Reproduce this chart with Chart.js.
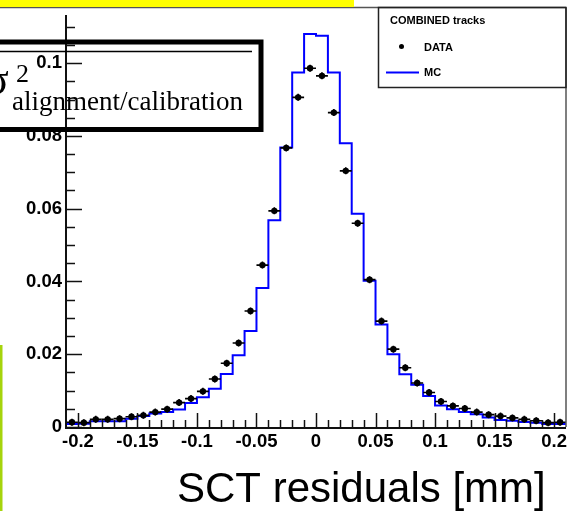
<!DOCTYPE html>
<html>
<head>
<meta charset="utf-8">
<script src="https://cdn.jsdelivr.net/npm/chart.js@4.4.1/dist/chart.umd.min.js"></script>
<style>
html,body{margin:0;padding:0;background:#fff;}
#wrap{position:relative;width:572px;height:511px;}
canvas{display:block;}
</style>
</head>
<body>
<div id="wrap"><canvas id="c" width="572" height="511"></canvas></div>
<script>
// ---- data ----
const binEdges = [-0.21,-0.20,-0.19,-0.18,-0.17,-0.16,-0.15,-0.14,-0.13,-0.12,-0.11,-0.10,-0.09,-0.08,-0.07,-0.06,-0.05,-0.04,-0.03,-0.02,-0.01,0.00,0.01,0.02,0.03,0.04,0.05,0.06,0.07,0.08,0.09,0.10,0.11,0.12,0.13,0.14,0.15,0.16,0.17,0.18,0.19,0.20,0.21];
const dataValues = [0.0013,0.0012,0.0021,0.0021,0.0023,0.0028,0.0032,0.0041,0.0049,0.0067,0.0078,0.0098,0.0132,0.0175,0.0231,0.0319,0.0445,0.0594,0.0767,0.0906,0.0986,0.0965,0.0864,0.0704,0.0560,0.0405,0.0291,0.0214,0.0163,0.0121,0.0095,0.0070,0.0058,0.0051,0.0041,0.0034,0.0030,0.0025,0.0021,0.0017,0.0012,0.0013];
const mcValues = [0.0008,0.0009,0.0016,0.0016,0.0016,0.0023,0.0030,0.0037,0.0041,0.0048,0.0066,0.0082,0.0105,0.0146,0.0197,0.0264,0.0382,0.0568,0.0768,0.0974,0.1080,0.1075,0.0974,0.0780,0.0586,0.0402,0.0282,0.0200,0.0145,0.0116,0.0085,0.0059,0.0049,0.0041,0.0035,0.0026,0.0019,0.0017,0.0014,0.0012,0.0008,0.0008];
const xTickValues = [-0.2,-0.15,-0.1,-0.05,0,0.05,0.1,0.15,0.2];
const xTickLabels = ['-0.2','-0.15','-0.1','-0.05','0','0.05','0.1','0.15','0.2'];
const yTickValues = [0,0.02,0.04,0.06,0.08,0.1];
const yTickLabels = ['0','0.02','0.04','0.06','0.08','0.1'];
const xMinorStep = 0.01, yMinorStep = 0.005;
const xTitle = 'SCT residuals [mm]';
const legendTitle = 'COMBINED tracks';
const seriesNames = ['DATA','MC'];
const noteSigma = 'σ', noteSup = '2', noteSub = 'alignment/calibration';

const SANS = '"Liberation Sans", Arial, Helvetica, sans-serif';
const SERIF = '"Liberation Serif", "Times New Roman", serif';

const mcPoints = binEdges.map((e,i)=>({x:e, y: mcValues[Math.min(i, mcValues.length-1)]}));
const dataPoints = dataValues.map((v,i)=>({x:(binEdges[i]+binEdges[i+1])/2, y:v, lo:binEdges[i], hi:binEdges[i+1]}));

const decor = {
  id:'decor',
  beforeDraw(chart){
    const ctx = chart.ctx;
    ctx.save();
    ctx.fillStyle='#fff'; ctx.fillRect(0,0,chart.width,chart.height);
    ctx.restore();
  },
  afterDatasetsDraw(chart){
    const ctx = chart.ctx, xs = chart.scales.x, ys = chart.scales.y;
    const a = chart.chartArea;
    ctx.save();
    // error bars for data
    ctx.strokeStyle='#000'; ctx.lineWidth=1.6;
    dataPoints.forEach(p=>{
      const y = ys.getPixelForValue(p.y);
      const x = xs.getPixelForValue(p.x);
      ctx.beginPath();
      ctx.moveTo(xs.getPixelForValue(p.lo), y);
      ctx.lineTo(xs.getPixelForValue(p.hi), y);
      ctx.moveTo(x, y-3.5); ctx.lineTo(x, y+3.5);
      ctx.stroke();
    });
    // frame
    ctx.strokeStyle='#555'; ctx.lineWidth=1.5;
    ctx.beginPath(); ctx.moveTo(0,7.5); ctx.lineTo(a.right,7.5); ctx.stroke();
    ctx.beginPath(); ctx.moveTo(a.right,7.5); ctx.lineTo(a.right,a.bottom); ctx.stroke();
    ctx.strokeStyle='#111'; ctx.lineWidth=2;
    ctx.beginPath(); ctx.moveTo(a.left,a.top); ctx.lineTo(a.left,a.bottom+1); ctx.lineTo(a.right,a.bottom+1); ctx.stroke();
    // y ticks (inward)
    ctx.lineWidth=1.5; ctx.strokeStyle='#111';
    for(let k=0; ; k++){
      const v = k*yMinorStep; if (v > ys.max) break;
      const py = Math.round(ys.getPixelForValue(v))+0.5;
      const major = yTickValues.some(t=>Math.abs(t-v)<1e-9);
      ctx.beginPath(); ctx.moveTo(a.left,py); ctx.lineTo(a.left+(major?16:9),py); ctx.stroke();
    }
    // x ticks (inward, upward)
    const n = Math.round((xs.max-xs.min)/xMinorStep);
    for(let k=1;k<n;k++){
      const v = xs.min + k*xMinorStep;
      const px = Math.round(xs.getPixelForValue(v))+0.5;
      const major = xTickValues.some(t=>Math.abs(t-v)<1e-9);
      ctx.beginPath(); ctx.moveTo(px,a.bottom); ctx.lineTo(px,a.bottom-(major?14:7)); ctx.stroke();
    }
    ctx.restore();
  },
  afterDraw(chart){
    const ctx = chart.ctx;
    ctx.save();
    // yellow band at top
    ctx.fillStyle='#ffff00'; ctx.fillRect(0,0,354,7);
    // green strip on left
    ctx.fillStyle='#a6d40c'; ctx.fillRect(0,345,2.5,166);
    // legend
    ctx.strokeStyle='#222'; ctx.lineWidth=1.5;
    ctx.strokeRect(378.5,7.5,187.5,80);
    ctx.fillStyle='#000'; ctx.textBaseline='middle'; ctx.textAlign='left';
    ctx.font='bold 11px '+SANS;
    ctx.fillText(legendTitle,390,21);
    ctx.fillText(seriesNames[0],424,48);
    ctx.fillText(seriesNames[1],424,73);
    ctx.beginPath(); ctx.arc(401.5,46.5,2.5,0,Math.PI*2); ctx.fill();
    ctx.strokeStyle='#0000ff'; ctx.lineWidth=2;
    ctx.beginPath(); ctx.moveTo(386,72.5); ctx.lineTo(419,72.5); ctx.stroke();
    // x title
    ctx.fillStyle='#000'; ctx.textBaseline='alphabetic';
    ctx.font='42px '+SANS;
    ctx.fillText(xTitle,177,502);
    // annotation box
    ctx.strokeStyle='#000'; ctx.lineWidth=5;
    ctx.strokeRect(-10,42,271,87.5);
    ctx.lineWidth=1.5;
    ctx.beginPath(); ctx.moveTo(0,51.5); ctx.lineTo(252,51.5); ctx.stroke();
    ctx.font='44px '+SERIF;
    ctx.fillText(noteSigma,-15,94);
    ctx.font='26px '+SERIF;
    ctx.fillText(noteSup,16,82);
    ctx.font='27px '+SERIF;
    ctx.fillText(noteSub,12,110);
    ctx.restore();
  }
};

new Chart(document.getElementById('c'), {
  type:'scatter',
  data:{
    datasets:[
      {type:'line', label:seriesNames[1], data:mcPoints, stepped:'before', borderColor:'#0000ff', borderWidth:2, pointRadius:0, fill:false, tension:0, order:2},
      {type:'scatter', label:seriesNames[0], data:dataPoints, pointRadius:3.2, pointHoverRadius:3.2, backgroundColor:'#000', borderColor:'#000', borderWidth:0, order:1}
    ]
  },
  options:{
    responsive:false, animation:false, devicePixelRatio:1,
    layout:{padding:{top:8,right:6,left:0,bottom:0}},
    plugins:{legend:{display:false}, tooltip:{enabled:false}},
    scales:{
      x:{type:'linear', min:-0.21, max:0.21,
         grid:{display:false, drawTicks:false}, border:{display:false},
         afterBuildTicks(s){ s.ticks = xTickValues.map(v=>({value:v})); },
         afterFit(s){ s.height = 84; },
         ticks:{color:'#000', padding:4, maxRotation:0, autoSkip:false, font:{family:SANS, size:18.5, weight:'bold'},
           callback(v){ const i = xTickValues.findIndex(t=>Math.abs(t-v)<1e-9); return i>=0?xTickLabels[i]:''; }}
      },
      y:{type:'linear', min:0, max:0.1132,
         grid:{display:false, drawTicks:false}, border:{display:false},
         afterBuildTicks(s){ s.ticks = yTickValues.map(v=>({value:v})); },
         afterFit(s){ s.width = 66; },
         ticks:{color:'#000', padding:4, autoSkip:false, font:{family:SANS, size:18.5, weight:'bold'},
           callback(v){ const i = yTickValues.findIndex(t=>Math.abs(t-v)<1e-9); return i>=0?yTickLabels[i]:''; }}
      }
    }
  },
  plugins:[decor]
});
</script>
</body>
</html>
